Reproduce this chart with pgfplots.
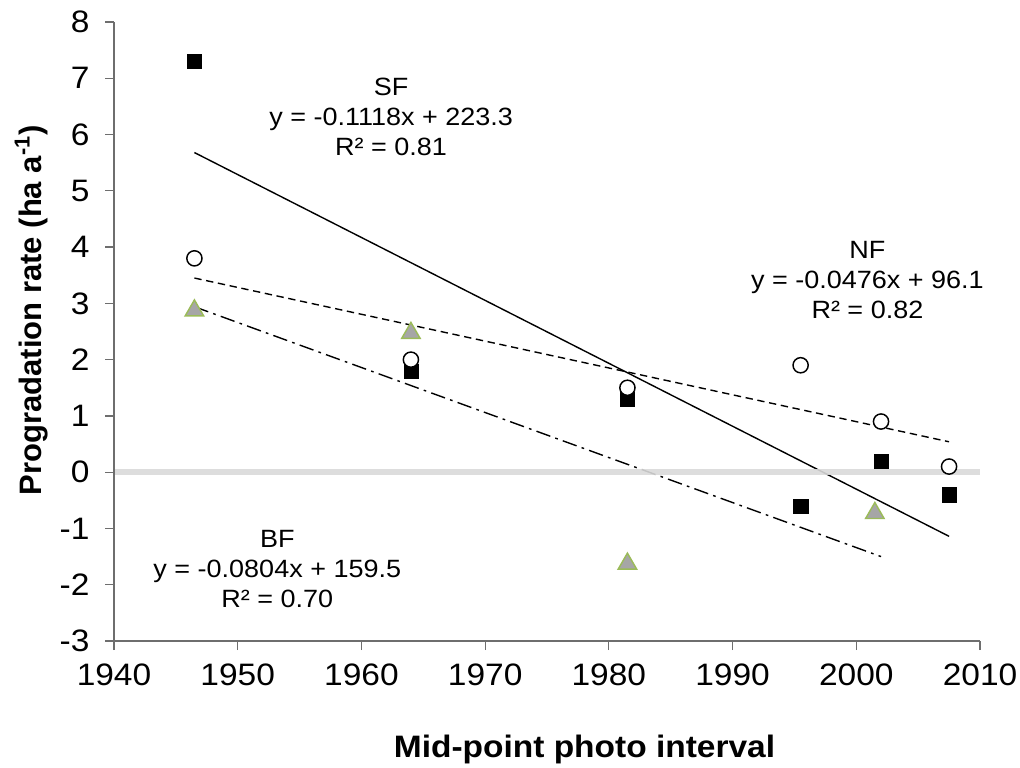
\documentclass[border=0pt]{standalone}
\usepackage{fontspec}
\setmainfont{Liberation Sans}[FakeStretch=1.08]
\newfontfamily\ylabfont{Liberation Sans}
\usepackage{pgfplots}
\pgfplotsset{compat=1.18}
\definecolor{axgray}{HTML}{6E6E6E}
\definecolor{zerogray}{HTML}{D9D9D9}
\definecolor{trigray}{HTML}{A6A6A6}
\definecolor{trigreen}{HTML}{9BBB59}
\begin{document}
\begin{tikzpicture}
\begin{axis}[
  scale only axis, width=649.5pt, height=464.25pt,
  xmin=1940, xmax=2010, ymin=-3, ymax=8,
  axis lines*=left,
  axis on top,
  axis line style={axgray, line width=0.9pt},
  xtick={1940,1950,1960,1970,1980,1990,2000,2010},
  xticklabels={1940,1950,1960,1970,1980,1990,2000,2010},
  ytick={-3,-2,-1,0,1,2,3,4,5,6,7,8},
  yticklabels={-3,-2,-1,0,1,2,3,4,5,6,7,8},
  xtick pos=left, ytick pos=left,
  tick align=outside, major tick length=6.75pt,
  tick style={axgray, line width=0.9pt},
  ticklabel style={font=\fontsize{23.25}{28}\selectfont},
  yticklabel style={anchor=east, inner sep=0pt, xshift=-11.5pt},
  xticklabel style={anchor=north, inner sep=0pt, yshift=-10.5pt},
  xlabel={Mid-point photo interval},
  xlabel style={font=\fontsize{23.25}{28}\selectfont\bfseries, at={(axis description cs:0.5433,-0.1745)}, anchor=center},
  ylabel={\ylabfont\bfseries Progradation rate (ha a\textsuperscript{-1})},
  ylabel style={font=\fontsize{23.25}{28}\selectfont, at={(axis description cs:-0.0953,0.534)}, anchor=center},
  clip=false,
]
% trend lines
\addplot[black, line width=1.05pt] coordinates {(1946.5,5.68) (2007.5,-1.14)};
\addplot[black, line width=1.05pt, dash pattern=on 5.5pt off 3.5pt] coordinates {(1946.5,3.45) (2007.5,0.54)};
\addplot[black, line width=1.05pt, dash pattern=on 11pt off 4pt on 2pt off 4pt] coordinates {(1946.5,2.94) (2002,-1.5)};
% SF squares
\addplot[only marks, mark=square*, mark size=5.4pt, mark options={fill=black, draw=black, line width=0.2pt}]
  coordinates {(1946.5,7.3) (1964,1.8) (1981.5,1.3) (1995.5,-0.6) (2002,0.2) (2007.5,-0.4)};
% NF circles
\addplot[only marks, mark=*, mark size=5.7pt, mark options={fill=white, draw=black, line width=1.1pt}]
  coordinates {(1946.5,3.8) (1964,2.0) (1981.5,1.5) (1995.5,1.9) (2002,0.9) (2007.5,0.1)};
% BF triangles
\addplot[only marks, mark=triangle*, mark size=8pt, mark options={fill=trigray, draw=trigreen, line width=1.1pt, yshift=-1.2pt}]
  coordinates {(1946.5,2.9) (1964,2.5) (1981.5,-1.6) (2001.5,-0.7)};
% zero line
\addplot[zerogray, line width=4.5pt, opacity=0.9] coordinates {(1940,0) (2010,0)};
\node[align=center, font=\fontsize{18.75}{22.5}\selectfont] at (axis cs:1962.4,6.31) {SF\\y = -0.1118x + 223.3\\R² = 0.81};
\node[align=center, font=\fontsize{18.75}{22.5}\selectfont] at (axis cs:2000.9,3.42) {NF\\y = -0.0476x + 96.1\\R² = 0.82};
\node[align=center, font=\fontsize{18.75}{22.5}\selectfont] at (axis cs:1953.2,-1.72) {BF\\y = -0.0804x + 159.5\\R² = 0.70};
\end{axis}
\pgfresetboundingbox
\path (current axis.south west) ++(-85.5pt,-94.5pt) rectangle ([xshift=30pt,yshift=16.5pt]current axis.north east);
\end{tikzpicture}
\end{document}
